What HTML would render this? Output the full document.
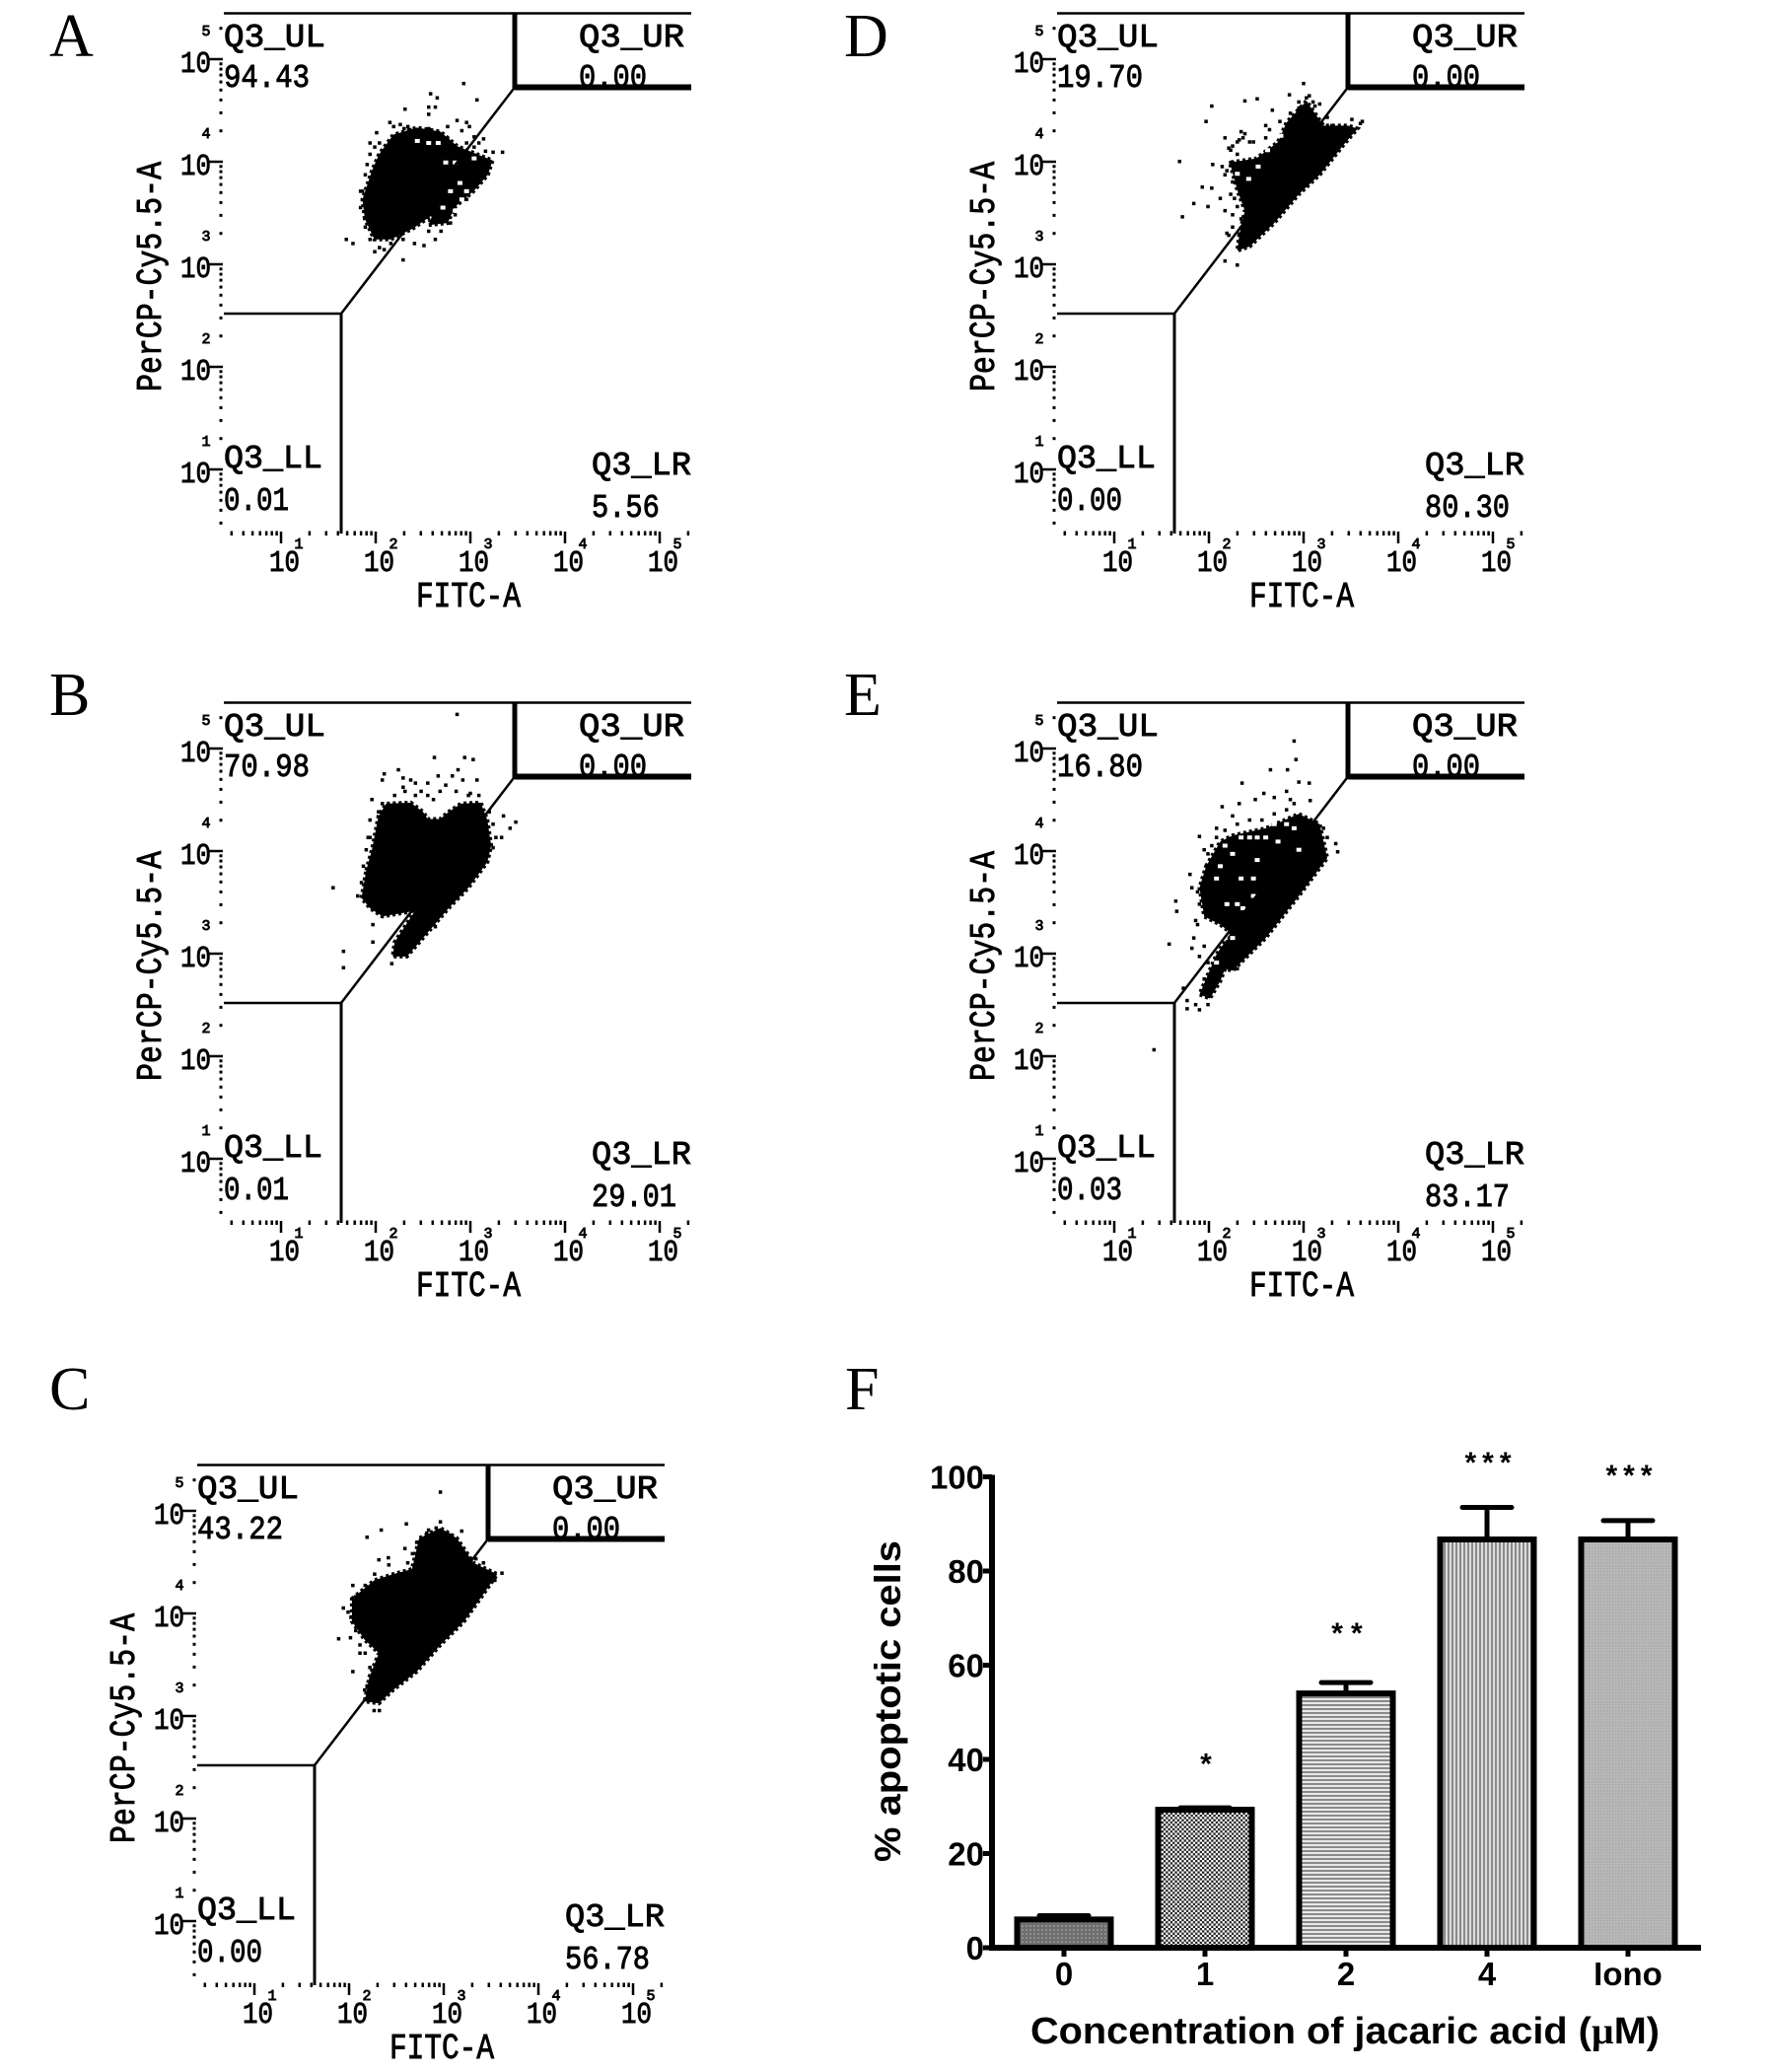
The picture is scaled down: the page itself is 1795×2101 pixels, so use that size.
<!DOCTYPE html>
<html lang="en">
<head>
<meta charset="utf-8">
<title>Flow cytometry apoptosis panels</title>
<style>
html,body{margin:0;padding:0;background:#fff;}
svg{display:block;}
.cy{font-family:"Liberation Mono",monospace;fill:#000;stroke:#000;stroke-width:.9px;}
.letter{font-family:"Liberation Serif",serif;font-size:62px;fill:#000;}
.b{font-family:"Liberation Sans",sans-serif;font-weight:bold;fill:#000;}
</style>
</head>
<body>
<svg id="fig" xmlns="http://www.w3.org/2000/svg" width="1795" height="2101" viewBox="0 0 1795 2101">
<defs>
<pattern id="p0" width="4" height="4" patternUnits="userSpaceOnUse"><rect width="4" height="4" fill="#6f6f6f"/><rect width="2" height="2" fill="#8f8f8f"/></pattern>
<pattern id="p1" width="4.6" height="4.6" patternUnits="userSpaceOnUse"><rect width="4.6" height="4.6" fill="#222"/><rect width="2.3" height="2.3" fill="#fff"/><rect x="2.3" y="2.3" width="2.3" height="2.3" fill="#fff"/></pattern>
<pattern id="p2" width="4" height="4" patternUnits="userSpaceOnUse"><rect width="4" height="4" fill="#e8e8e8"/><rect width="4" height="2" fill="#8a8a8a"/></pattern>
<pattern id="p3" width="4" height="4" patternUnits="userSpaceOnUse"><rect width="4" height="4" fill="#dcdcdc"/><rect width="2" height="4" fill="#8a8a8a"/></pattern>
<pattern id="p4" width="3" height="3" patternUnits="userSpaceOnUse"><rect width="3" height="3" fill="#b8b8b8"/><rect width="1.5" height="1.5" fill="#a8a8a8"/></pattern>
</defs>
<g id="root"></g>
</svg>
<script>
// Flow panels: cloud outlines, gaps and events in log10 decades [FITC, PerCP]
const yDecades = [1, 2, 3, 4, 5];
const xDecades = [1, 2, 3, 4, 5];
const tickBase = ['10', '10', '10', '10', '10'];

const cloudA = [[1.885,3.51],[1.86,3.70],[1.96,3.98],[2.035,4.14],[2.185,4.33],[2.435,4.40],[2.685,4.36],[2.86,4.22],[3.235,4.08],[3.185,3.94],[3.035,3.78],[2.835,3.625],[2.76,3.47],[2.56,3.45],[2.60,3.55],[2.40,3.42],[2.16,3.31],[1.985,3.31]];
const holesA = [[2.79,3.78],[2.71,3.62],[2.89,3.86],[2.96,3.78],[2.74,4.06],[2.84,4.06],[3.04,4.10],[2.91,3.70],[2.84,3.59],[2.66,4.25],[2.44,4.27],[2.56,4.25]];
const eventsA = [[2.93,4.83],[2.58,4.73],[2.65,4.69],[3.07,4.67],[2.31,4.58],[2.56,4.60],[2.63,4.60],[2.56,4.53],[2.15,4.45],[2.30,4.39],[2.36,4.38],[2.96,4.45],[2.86,4.47],[2.01,4.35],[1.94,4.25],[3.34,4.16],[1.91,4.04],[1.86,3.78],[1.84,3.62],[1.69,3.31],[1.76,3.27],[1.99,3.19],[2.09,3.21],[2.29,3.11],[2.41,3.27],[2.51,3.25],[2.63,3.31],[3.14,4.29],[3.04,4.31],[2.76,4.41],[2.19,4.41],[2.26,4.43],[2.34,4.41],[2.41,4.37],[2.49,4.37],[2.56,4.39],[2.66,4.35],[2.76,4.29],[2.91,4.37],[2.99,4.41],[3.09,4.25],[3.16,4.17],[3.24,4.16],[3.04,4.21],[2.96,4.25],[2.04,4.25],[1.99,4.21],[1.94,4.14],[1.89,3.94],[1.84,3.78],[1.89,3.43],[1.94,3.31],[2.04,3.23],[2.16,3.27],[2.29,3.31],[2.56,3.39],[2.69,3.39],[2.79,3.47],[2.84,3.55],[2.96,3.70],[3.11,3.90]];

const cloudB = [[1.90,3.88],[1.96,4.08],[2.03,4.41],[2.11,4.53],[2.37,4.54],[2.50,4.45],[2.55,4.38],[2.68,4.38],[2.77,4.45],[2.90,4.53],[3.11,4.54],[3.18,4.37],[3.22,4.12],[3.18,3.96],[2.98,3.71],[2.77,3.51],[2.50,3.22],[2.33,3.04],[2.18,3.04],[2.20,3.18],[2.42,3.49],[2.33,3.47],[2.07,3.43],[1.94,3.51],[1.85,3.61]];
const holesB = [];
const eventsB = [[2.86,5.40],[2.62,4.98],[2.94,4.98],[3.03,4.96],[2.87,4.86],[2.24,4.86],[2.09,4.82],[2.07,4.76],[2.29,4.78],[2.42,4.73],[2.55,4.73],[2.66,4.80],[2.81,4.80],[2.92,4.76],[3.07,4.76],[2.31,4.65],[2.42,4.61],[2.55,4.61],[2.68,4.65],[3.00,4.63],[1.96,4.57],[3.35,4.41],[3.48,4.35],[3.42,4.29],[3.33,4.20],[3.24,4.10],[1.92,4.20],[1.90,4.08],[1.81,3.63],[1.55,3.71],[1.97,3.35],[1.97,3.18],[1.66,3.09],[1.66,2.93],[2.17,2.97],[2.63,3.33],[2.20,4.61],[2.07,4.53],[2.03,4.45],[1.94,4.37],[1.94,4.20],[1.87,3.92],[1.85,3.76],[2.98,4.61],[3.09,4.61],[3.20,4.45],[3.24,4.33],[3.27,4.20],[2.29,4.69],[2.37,4.76],[2.48,4.65],[2.61,4.57],[2.74,4.71],[2.85,4.65]];

const cloudC = [[2.03,4.21],[2.265,4.39],[2.465,4.45],[2.665,4.50],[2.74,4.80],[2.965,4.90],[3.14,4.80],[3.315,4.56],[3.565,4.45],[3.415,4.25],[3.215,3.99],[2.965,3.76],[2.715,3.50],[2.465,3.32],[2.315,3.19],[2.165,3.21],[2.215,3.45],[2.315,3.68],[2.165,3.81],[2.03,3.99]];
const holesC = [];
const eventsC = [[2.965,5.25],[2.34,4.88],[2.19,4.81],[2.605,4.94],[2.965,4.96],[2.84,4.88],[3.19,4.87],[3.04,4.85],[2.59,4.70],[2.715,4.76],[2.415,4.61],[2.315,4.59],[2.04,4.34],[1.94,4.12],[1.99,4.08],[1.89,3.82],[2.015,3.83],[2.04,3.50],[2.165,3.32],[2.115,3.76],[3.615,4.46],[3.34,4.60],[2.265,3.12],[2.115,3.68],[2.82,4.85],[2.92,4.90],[3.07,4.83],[3.14,4.74],[3.24,4.63],[3.42,4.56],[2.67,4.65],[2.62,4.56],[2.42,4.54],[2.27,4.45],[2.17,4.34],[2.07,4.23],[2.02,4.03],[2.07,3.90],[2.17,3.68],[2.22,3.54],[2.19,3.36],[2.22,3.23],[2.32,3.12],[3.54,4.39]];

const cloudD = [[2.32,3.35],[2.38,3.59],[2.30,3.79],[2.22,4.06],[2.50,4.10],[2.73,4.26],[2.82,4.45],[3.03,4.66],[3.21,4.42],[3.47,4.42],[3.57,4.39],[3.43,4.24],[3.17,3.94],[2.95,3.75],[2.69,3.47],[2.43,3.24],[2.30,3.20]];
const holesD = [[2.42,3.90],[2.30,3.95],[2.52,4.02],[2.62,4.18],[2.76,4.32]];
const eventsD = [[3.00,4.83],[2.85,4.72],[3.06,4.71],[3.10,4.65],[2.38,4.66],[2.51,4.68],[2.67,4.57],[2.03,4.61],[1.97,4.46],[1.69,4.07],[2.04,4.04],[2.17,4.30],[2.34,4.36],[2.36,4.30],[2.21,4.20],[2.14,4.02],[2.17,3.94],[1.93,3.82],[2.03,3.81],[2.12,3.71],[1.84,3.66],[1.99,3.63],[1.72,3.53],[2.17,3.59],[2.25,3.55],[2.19,3.37],[2.17,3.10],[2.30,3.06],[3.62,4.46],[2.60,4.42],[2.47,4.26],[2.30,4.26],[2.25,4.06],[2.30,3.91],[2.27,3.71],[2.23,4.18],[2.95,4.59],[3.17,4.63],[2.25,4.22],[2.32,4.28],[2.38,4.34],[2.43,4.26],[2.30,4.14],[2.23,4.06],[2.19,3.98],[2.25,3.87],[2.34,3.79],[2.23,3.75],[2.30,3.63],[2.34,3.51],[2.25,3.43],[2.21,3.35],[2.36,3.31],[2.60,4.30],[2.64,4.38],[2.75,4.46],[2.86,4.54],[2.95,4.65],[3.03,4.69],[3.12,4.61],[3.25,4.50],[3.30,4.42],[3.51,4.48],[3.60,4.44]];

const cloudE = [[1.97,3.92],[2.12,4.16],[2.25,4.22],[2.60,4.29],[2.95,4.43],[3.17,4.33],[3.25,4.00],[2.95,3.63],[2.60,3.22],[2.25,2.90],[2.17,2.92],[2.12,2.80],[2.01,2.63],[1.90,2.67],[2.08,3.06],[2.23,3.27],[2.12,3.35],[1.95,3.43],[1.90,3.71]];
const holesE = [[2.17,4.12],[2.25,4.04],[2.43,4.20],[2.60,4.20],[2.73,4.16],[2.82,4.33],[2.90,4.29],[2.12,3.92],[2.34,3.80],[2.51,3.98],[2.30,3.55],[2.36,3.51],[2.17,3.22],[2.25,3.22],[2.08,2.98],[2.03,3.31],[1.99,3.22],[2.34,4.20],[2.51,4.20],[2.69,4.33],[2.95,4.08],[2.19,3.55],[2.47,3.63],[2.47,3.80],[2.08,3.80]];
const eventsE = [[2.90,5.14],[2.92,4.96],[2.65,4.86],[2.83,4.86],[2.35,4.73],[2.95,4.74],[3.06,4.73],[2.58,4.63],[2.82,4.65],[2.69,4.59],[2.86,4.57],[2.14,4.50],[2.32,4.53],[2.49,4.57],[3.07,4.56],[2.25,4.41],[2.08,4.29],[1.90,4.21],[1.95,4.08],[3.34,4.14],[3.36,4.06],[1.80,3.84],[1.82,3.71],[1.65,3.58],[1.66,3.48],[1.88,3.35],[1.82,3.12],[1.58,3.16],[1.90,3.04],[1.42,2.13],[1.73,2.73],[1.77,2.53],[1.90,2.52],[1.99,2.57],[2.30,2.92],[1.99,4.04],[2.03,4.12],[2.08,4.20],[2.17,4.27],[2.30,4.33],[2.43,4.37],[2.56,4.37],[2.69,4.43],[2.82,4.47],[2.90,4.53],[3.21,4.29],[3.25,4.20],[1.88,3.67],[1.90,3.55],[1.86,3.39],[1.84,3.22],[1.95,3.14],[1.99,2.98],[1.95,2.82],[1.77,2.61],[1.86,2.57]];

// Quadrant percentages: UL, UR, LL, LR
const quadA = ['94.43', '0.00', '0.01', '5.56'];
const quadB = ['70.98', '0.00', '0.01', '29.01'];
const quadC = ['43.22', '0.00', '0.00', '56.78'];
const quadD = ['19.70', '0.00', '0.00', '80.30'];
const quadE = ['16.80', '0.00', '0.03', '83.17'];

// Bar chart F
const barCategories = ['0', '1', '2', '4', 'Iono'];
const barValues = [6, 29.3, 54, 86.7, 86.7];
const barErrorTops = [6.8, 29.7, 56.3, 93.5, 90.7];
const barStars = ['', '*', '**', '***', '***'];
const starValues = [0, 40.5, 68.3, 104.5, 101.8];
const barTicks = [0, 20, 40, 60, 80, 100];
const barPatterns = ['url(#p0)', 'url(#p1)', 'url(#p2)', 'url(#p3)', 'url(#p4)'];

const NS = 'http://www.w3.org/2000/svg';
const root = document.getElementById('root');
function mk(parent, tag, attrs, txt) {
  const e = document.createElementNS(NS, tag);
  for (const k in attrs) e.setAttribute(k, attrs[k]);
  if (txt !== undefined) e.textContent = txt;
  parent.appendChild(e);
  return e;
}

// Flow axis functions (panel-local px)
const fx = v => 285 + 96 * (v - 1);
const fy = v => 483 - 104 * (v - 1);
const tickY = v => fy(v) - 7;

function drawFlow(id, dx, dy, cloud, holes, events, quad) {
  const g = mk(root, 'g', {transform: 'translate(' + dx + ',' + dy + ')'});
  
  

  const texts = [
    ['Q3_UL', 227, 47, 103], [quad[0], 227, 88, 87],
    ['Q3_UR', 587, 47, 107], [quad[1], 587, 88, 69],
    ['Q3_LL', 227, 474, 100], [quad[2], 227, 517, 66],
    ['Q3_LR', 600, 481, 101], [quad[3], 600, 524, quad[3].length * 17.2]
  ];
  texts.forEach(t => {
    const q = mk(g, 'text', {class: 'cy', x: t[1], y: t[2], 'font-size': 33, textLength: t[3], lengthAdjust: 'spacingAndGlyphs'}, t[0]);
    
    
  });

  const poly = mk(g, 'polygon', {points: cloud.map(p => fx(p[0]) + ',' + fy(p[1])).join(' '), fill: '#000', stroke: '#000', 'stroke-width': 4, 'stroke-dasharray': '3 3'});
  
  
  holes.forEach(p => {
    const r = mk(g, 'rect', {x: fx(p[0]) - 2.5, y: fy(p[1]) - 2, width: 5, height: 4, fill: '#fff'});
    
    
  });
  events.forEach(p => {
    const r = mk(g, 'rect', {x: fx(p[0]) - 1.75, y: fy(p[1]) - 1.75, width: 3.5, height: 3.5, fill: '#000'});
    
    
  });

  const gates = [
    ['gate-top', 227, 13.5, 701, 13.5, 2.5],
    ['gate-thick-vertical', 522, 13.5, 522, 91, 5],
    ['gate-thick-horizontal', 522, 88.5, 701, 88.5, 6],
    ['gate-lower-horizontal', 227, 318, 346, 318, 2.5],
    ['gate-lower-vertical', 346, 318, 346, 541, 3],
    ['gate-diagonal', 346, 318, 522, 88.5, 2.5]
  ];
  gates.forEach(l => {
    const s = mk(g, 'line', {x1: l[1], y1: l[2], x2: l[3], y2: l[4], stroke: '#000', 'stroke-width': l[5]});
    
    
  });

  [0, 1, 2, 3, 4, 5].forEach(k => {
    [2, 3, 4, 5, 6, 7, 8, 9].forEach(m => {
      const y = tickY(k + Math.log10(m));
      if (y < 25 || y > 540) return;
      const r = mk(g, 'rect', {x: 222.5, y: y - 1.5, width: 3, height: 3, fill: '#000'});
      
      
    });
  });
  yDecades.forEach((d, i) => {
    const y = tickY(d);
    const t = mk(g, 'rect', {x: 212, y: y - 1.25, width: 14, height: 2.5, fill: '#000'});
    
    
    const lab = mk(g, 'text', {class: 'cy', x: 183, y: fy(d) + 6, 'font-size': 31, textLength: 31, lengthAdjust: 'spacingAndGlyphs'}, tickBase[i]);
    
    
    const sup = mk(g, 'text', {class: 'cy', x: 209, y: fy(d) - 31, 'font-size': 15, 'text-anchor': 'middle'}, String(d));
    
    
  });
  const yTitle = mk(g, 'text', {class: 'cy', transform: 'translate(163,397) rotate(-90)', 'font-size': 36, textLength: 233, lengthAdjust: 'spacingAndGlyphs'}, 'PerCP-Cy5.5-A');
  
  

  [0, 1, 2, 3, 4, 5].forEach(k => {
    [2, 3, 4, 5, 6, 7, 8, 9].forEach(m => {
      const x = fx(k + Math.log10(m));
      if (x < 227 || x > 704) return;
      const r = mk(g, 'rect', {x: x - 1.25, y: 538.5, width: 2.5, height: 4.5, fill: '#000'});
      
      
    });
  });
  xDecades.forEach((d, i) => {
    const x = fx(d);
    const t = mk(g, 'rect', {x: x - 1.25, y: 539, width: 2.5, height: 12, fill: '#000'});
    
    
    const lab = mk(g, 'text', {class: 'cy', x: x - 12, y: 579, 'font-size': 31, textLength: 31, lengthAdjust: 'spacingAndGlyphs'}, tickBase[i]);
    
    
    const sup = mk(g, 'text', {class: 'cy', x: x + 18, y: 556, 'font-size': 15, 'text-anchor': 'middle'}, String(d));
    
    
  });
  const xTitle = mk(g, 'text', {class: 'cy', x: 422, y: 615, 'font-size': 36, textLength: 106, lengthAdjust: 'spacingAndGlyphs'}, 'FITC-A');
  
  
}

drawFlow('a', 0, 0, cloudA, holesA, eventsA, quadA);
drawFlow('b', 0, 699, cloudB, holesB, eventsB, quadB);
drawFlow('c', -27, 1472, cloudC, holesC, eventsC, quadC);
drawFlow('d', 845, 0, cloudD, holesD, eventsD, quadD);
drawFlow('e', 845, 699, cloudE, holesE, eventsE, quadE);

// Bar chart axis functions
const barX = i => 1079 + 143 * i;
const barY = v => 1975 - 4.775 * v;
const gF = mk(root, 'g', {});



barValues.forEach((v, i) => {
  const cx = barX(i);
  const stem = mk(gF, 'line', {x1: cx, y1: barY(v), x2: cx, y2: barY(barErrorTops[i]), stroke: '#000', 'stroke-width': 5});
  
  
  const cap = mk(gF, 'line', {x1: cx - 25, y1: barY(barErrorTops[i]), x2: cx + 25, y2: barY(barErrorTops[i]), stroke: '#000', 'stroke-width': 5, 'stroke-linecap': 'round'});
  
  
  const bar = mk(gF, 'rect', {x: cx - 47.5, y: barY(v), width: 95, height: barY(0) - barY(v), fill: barPatterns[i], stroke: '#000', 'stroke-width': 6});
  
  
  const t = mk(gF, 'rect', {x: cx - 2.5, y: barY(0), width: 5, height: 9, fill: '#000'});
  
  
  const lab = mk(gF, 'text', {class: 'b', x: cx, y: 2013, 'font-size': 33, 'text-anchor': 'middle'}, barCategories[i]);
  
  
  if (barStars[i]) {
    const s = mk(gF, 'text', {class: 'b', x: cx + 1, y: barY(starValues[i]) + 17, 'font-size': 30, 'text-anchor': 'middle', 'font-weight': 'normal', textLength: 15.7 * barStars[i].length, lengthAdjust: 'spacing'}, barStars[i]);
    
    
  }
});

barTicks.forEach(v => {
  const t = mk(gF, 'rect', {x: 997, y: barY(v) - 2.5, width: 9, height: 5, fill: '#000'});
  
  
  const lab = mk(gF, 'text', {class: 'b', x: 998, y: barY(v) + 12, 'font-size': 33, 'text-anchor': 'end'}, String(v));
  
  
});

const yAxisF = mk(gF, 'line', {x1: 1006, y1: barY(100) - 2, x2: 1006, y2: barY(0) + 3, stroke: '#000', 'stroke-width': 6});


const xAxisF = mk(gF, 'line', {x1: 1003, y1: barY(0), x2: 1725, y2: barY(0), stroke: '#000', 'stroke-width': 6});


</script>
<svg xmlns="http://www.w3.org/2000/svg" width="1795" height="2101" viewBox="0 0 1795 2101" style="position:absolute;left:0;top:0;pointer-events:none">
<text class="letter" x="50" y="57">A</text>
<text class="letter" x="50" y="725">B</text>
<text class="letter" x="50" y="1429">C</text>
<text class="letter" x="856" y="57">D</text>
<text class="letter" x="856" y="725">E</text>
<text class="letter" x="857" y="1429">F</text>
<text class="b" transform="translate(913,1888) rotate(-90)" font-size="37" textLength="326" lengthAdjust="spacingAndGlyphs">% apoptotic cells</text>
<text class="b" x="1045" y="2072" font-size="38" textLength="638" lengthAdjust="spacingAndGlyphs">Concentration of jacaric acid (<tspan style="font-family:'Liberation Serif',serif">µ</tspan>M)</text>
</svg>
</body>
</html>
